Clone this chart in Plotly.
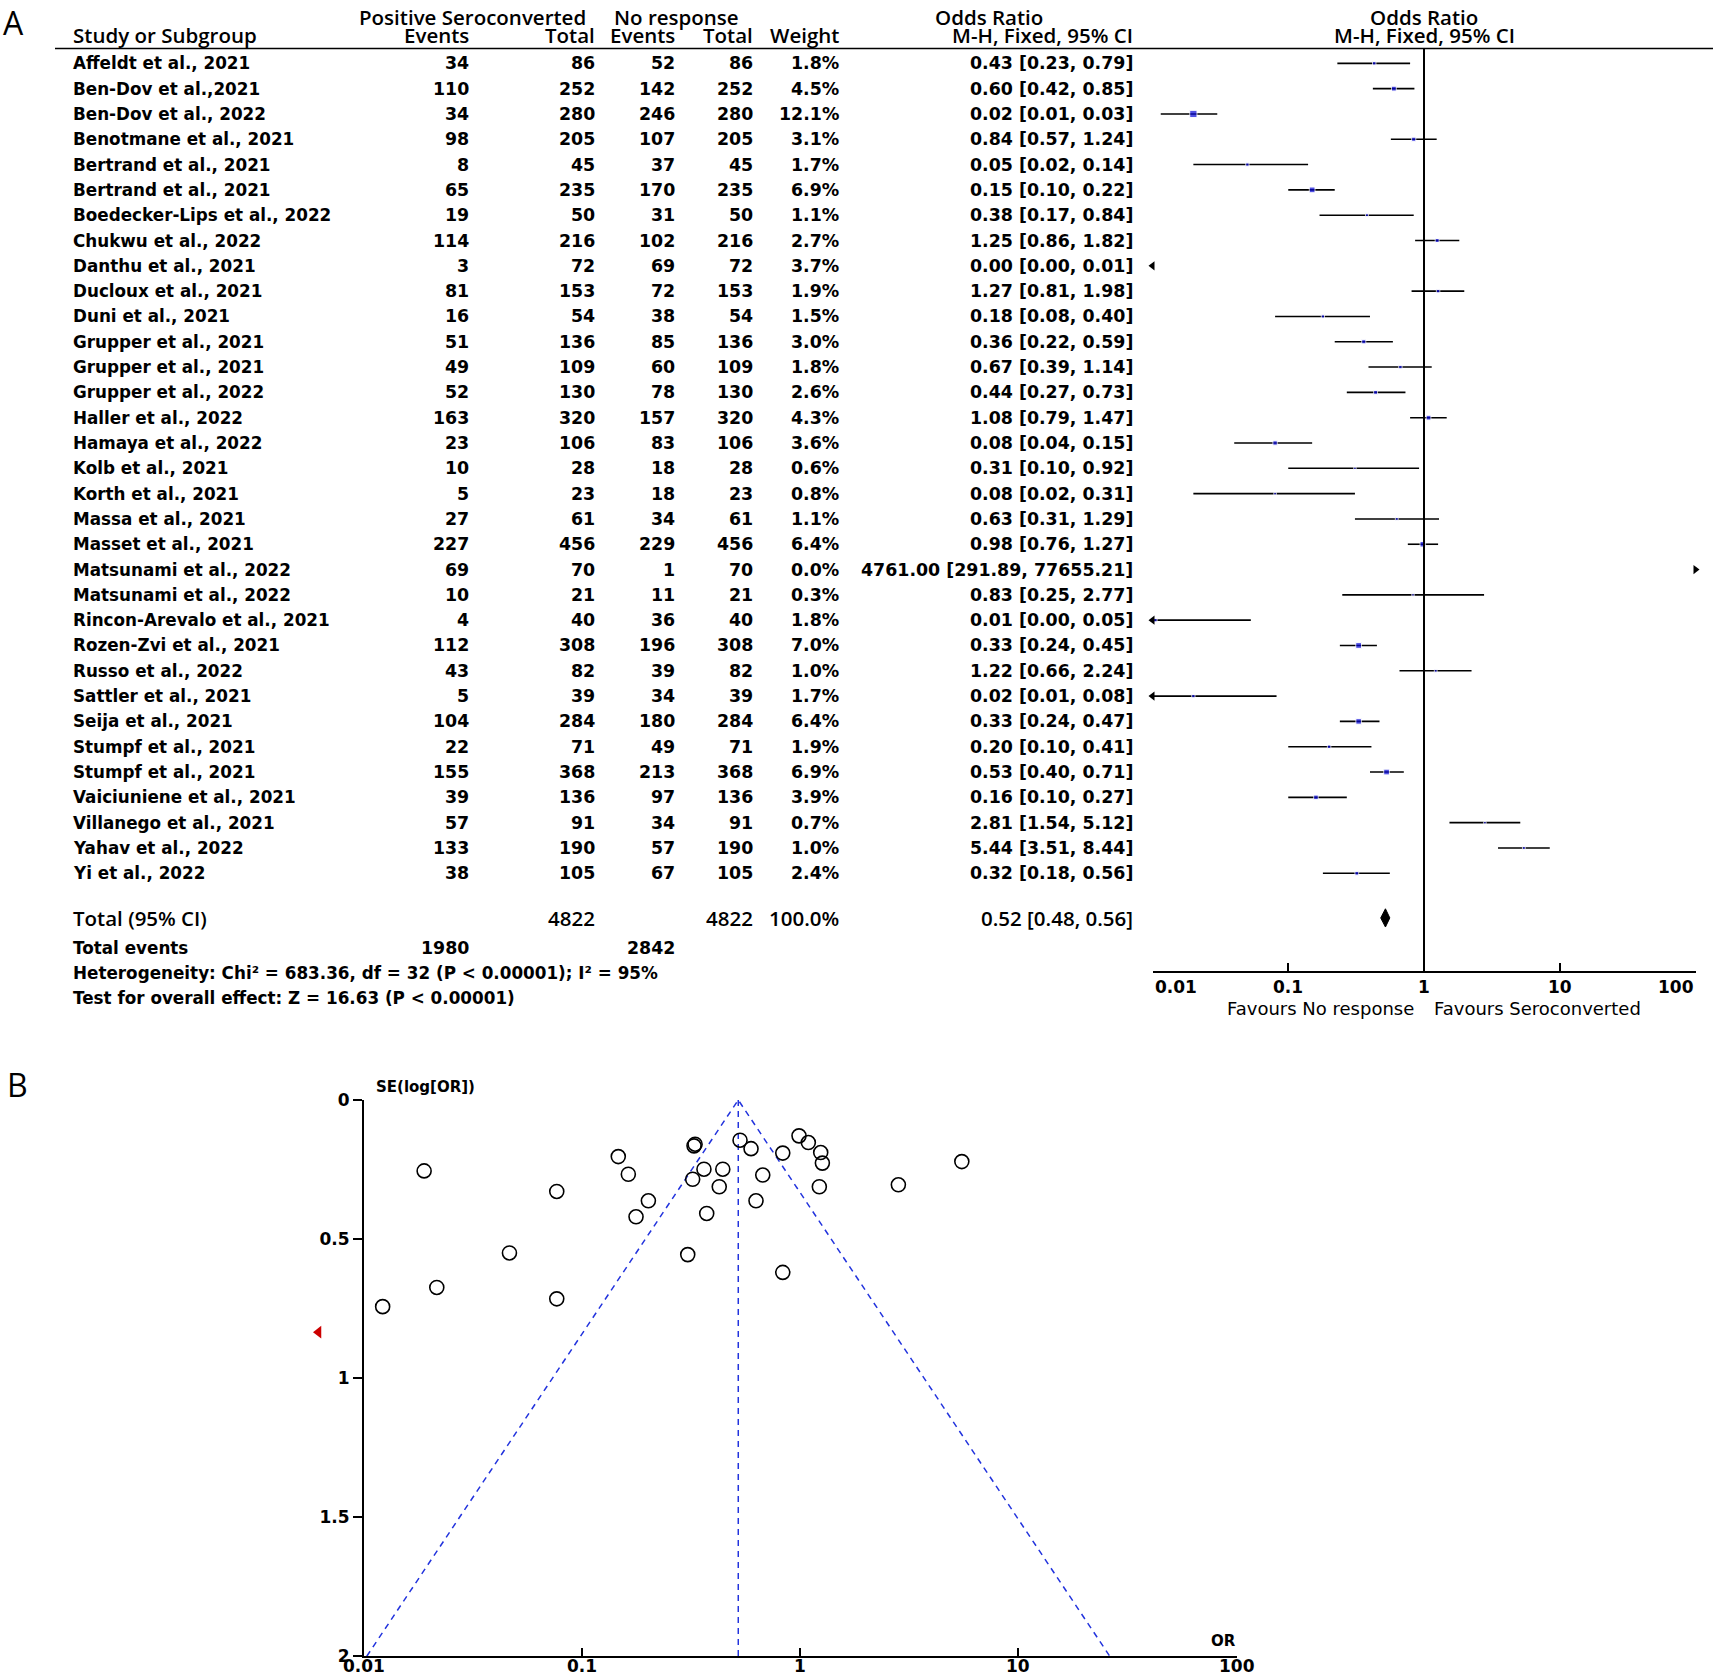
import math
import plotly.graph_objects as go

W, H = 1713, 1679

# ---------------- data (panel A: forest plot) ----------------
studies = [
    "Affeldt et al., 2021", "Ben-Dov et al.,2021", "Ben-Dov et al., 2022",
    "Benotmane et al., 2021", "Bertrand et al., 2021", "Bertrand et al., 2021",
    "Boedecker-Lips et al., 2022", "Chukwu et al., 2022", "Danthu et al., 2021",
    "Ducloux et al., 2021", "Duni et al., 2021", "Grupper et al., 2021",
    "Grupper et al., 2021", "Grupper et al., 2022", "Haller et al., 2022",
    "Hamaya et al., 2022", "Kolb et al., 2021", "Korth et al., 2021",
    "Massa et al., 2021", "Masset et al., 2021", "Matsunami et al., 2022",
    "Matsunami et al., 2022", "Rincon-Arevalo et al., 2021", "Rozen-Zvi et al., 2021",
    "Russo et al., 2022", "Sattler et al., 2021", "Seija et al., 2021",
    "Stumpf et al., 2021", "Stumpf et al., 2021", "Vaiciuniene et al., 2021",
    "Villanego et al., 2021", "Yahav et al., 2022", "Yi et al., 2022",
]
pos_events = [34, 110, 34, 98, 8, 65, 19, 114, 3, 81, 16, 51, 49, 52, 163, 23, 10,
              5, 27, 227, 69, 10, 4, 112, 43, 5, 104, 22, 155, 39, 57, 133, 38]
pos_total = [86, 252, 280, 205, 45, 235, 50, 216, 72, 153, 54, 136, 109, 130, 320, 106,
             28, 23, 61, 456, 70, 21, 40, 308, 82, 39, 284, 71, 368, 136, 91, 190, 105]
nr_events = [52, 142, 246, 107, 37, 170, 31, 102, 69, 72, 38, 85, 60, 78, 157, 83, 18,
             18, 34, 229, 1, 11, 36, 196, 39, 34, 180, 49, 213, 97, 34, 57, 67]
nr_total = [86, 252, 280, 205, 45, 235, 50, 216, 72, 153, 54, 136, 109, 130, 320, 106,
            28, 23, 61, 456, 70, 21, 40, 308, 82, 39, 284, 71, 368, 136, 91, 190, 105]
weight_pct = [1.8, 4.5, 12.1, 3.1, 1.7, 6.9, 1.1, 2.7, 3.7, 1.9, 1.5, 3.0, 1.8, 2.6,
              4.3, 3.6, 0.6, 0.8, 1.1, 6.4, 0.0, 0.3, 1.8, 7.0, 1.0, 1.7, 6.4, 1.9,
              6.9, 3.9, 0.7, 1.0, 2.4]
or_ci_text = [
    "0.43 [0.23, 0.79]", "0.60 [0.42, 0.85]", "0.02 [0.01, 0.03]", "0.84 [0.57, 1.24]",
    "0.05 [0.02, 0.14]", "0.15 [0.10, 0.22]", "0.38 [0.17, 0.84]", "1.25 [0.86, 1.82]",
    "0.00 [0.00, 0.01]", "1.27 [0.81, 1.98]", "0.18 [0.08, 0.40]", "0.36 [0.22, 0.59]",
    "0.67 [0.39, 1.14]", "0.44 [0.27, 0.73]", "1.08 [0.79, 1.47]", "0.08 [0.04, 0.15]",
    "0.31 [0.10, 0.92]", "0.08 [0.02, 0.31]", "0.63 [0.31, 1.29]", "0.98 [0.76, 1.27]",
    "4761.00 [291.89, 77655.21]", "0.83 [0.25, 2.77]", "0.01 [0.00, 0.05]",
    "0.33 [0.24, 0.45]", "1.22 [0.66, 2.24]", "0.02 [0.01, 0.08]", "0.33 [0.24, 0.47]",
    "0.20 [0.10, 0.41]", "0.53 [0.40, 0.71]", "0.16 [0.10, 0.27]", "2.81 [1.54, 5.12]",
    "5.44 [3.51, 8.44]", "0.32 [0.18, 0.56]",
]
# point estimates and CI limits as drawn in the forest plot
or_est = [0.43, 0.60, 0.02, 0.84, 0.05, 0.15, 0.38, 1.25, 0.0025, 1.27, 0.18, 0.36,
          0.67, 0.44, 1.08, 0.08, 0.31, 0.08, 0.63, 0.98, 4761.00, 0.83, 0.0105, 0.33,
          1.22, 0.02, 0.33, 0.20, 0.53, 0.16, 2.81, 5.44, 0.32]
ci_low = [0.23, 0.42, 0.0115, 0.57, 0.02, 0.10, 0.17, 0.86, 0.0006, 0.81, 0.08, 0.22,
          0.39, 0.27, 0.79, 0.04, 0.10, 0.02, 0.31, 0.76, 291.89, 0.25, 0.002, 0.24,
          0.66, 0.006, 0.24, 0.10, 0.40, 0.10, 1.54, 3.51, 0.18]
ci_high = [0.79, 0.85, 0.03, 1.24, 0.14, 0.22, 0.84, 1.82, 0.0095, 1.98, 0.40, 0.59,
           1.14, 0.73, 1.47, 0.15, 0.92, 0.31, 1.29, 1.27, 77655.21, 2.77, 0.053, 0.45,
           2.24, 0.082, 0.47, 0.41, 0.71, 0.27, 5.12, 8.44, 0.56]

total_pos, total_nr = 4822, 4822
total_events_pos, total_events_nr = 1980, 2842
pooled_or, pooled_lo, pooled_hi = 0.52, 0.48, 0.56
heterogeneity_text = "Heterogeneity: Chi² = 683.36, df = 32 (P < 0.00001); I² = 95%"
overall_text = "Test for overall effect: Z = 16.63 (P < 0.00001)"
forest_ticks = [0.01, 0.1, 1, 10, 100]
forest_ticklabels = ["0.01", "0.1", "1", "10", "100"]

# ---------------- data (panel B: funnel plot) ----------------
funnel_or = [0.0122, 0.0189, 0.0216, 0.0465, 0.0766, 0.0766, 0.1466, 0.163, 0.2014,
             0.1768, 0.3297, 0.326, 0.362, 0.3214, 0.4416, 0.4254, 0.3727, 0.3051,
             0.5298, 0.5949, 0.6733, 0.627, 0.8316, 0.8316, 0.987, 1.089, 1.241,
             1.263, 1.223, 2.816, 5.50]
funnel_se = [0.743, 0.255, 0.674, 0.550, 0.329, 0.715, 0.2035, 0.267, 0.3625, 0.420,
             0.159, 0.165, 0.249, 0.285, 0.249, 0.312, 0.408, 0.556, 0.1447, 0.175,
             0.270, 0.3625, 0.191, 0.620, 0.129, 0.153, 0.189, 0.227, 0.312, 0.305,
             0.2215]
offscale_or = [0.0062]
offscale_se = [0.835]
funnel_ticks = [0.01, 0.1, 1, 10, 100]
funnel_ticklabels = ["0.01", "0.1", "1", "10", "100"]
se_ticks = [0, 0.5, 1, 1.5, 2]
se_max = 2.0

# ---------------- layout helpers ----------------
# Reference pixel positions are converted to figure pixels.  A small vertical
# correction compensates the way the rendered page is photographed.
V_SCALE, V_OFF = 0.98765, 9.5


def fig_y(ref_y):
    return (ref_y - V_OFF) / V_SCALE


def px(x):
    return x / W


def py(ref_y):
    return 1 - fig_y(ref_y) / H


ROW0_PX, ROW_H = 62.8, 25.3
FOREST_TOP_PX, FOREST_BOT_PX = 48, 970


def row_of(p):
    return (p - ROW0_PX) / ROW_H


def row_px(r):
    return ROW0_PX + r * ROW_H


NAME_FONT = dict(family="DejaVu Sans", size=16.8, color="black", weight="bold")
NUM_FONT = dict(family="DejaVu Sans", size=17.4, color="black", weight="bold")
HEAD_FONT = dict(family="Open Sans", size=20.5, color="black", weight=600)
REG_FONT = dict(family="DejaVu Sans", size=18, color="black")
TICK_FONT = dict(family="DejaVu Sans", size=17, color="black", weight="bold")

fig = go.Figure()

n = len(studies)
rows = list(range(n))

# CI lines
lx, ly = [], []
larr_y, rarr_y = [], []
for i in rows:
    lo = max(ci_low[i], 0.01)
    hi = min(ci_high[i], 100)
    if hi > lo:
        lx += [lo, hi, None]
        ly += [i, i, None]
    if ci_low[i] < 0.01:
        larr_y.append(i)
    if ci_high[i] > 100:
        rarr_y.append(i)

fig.add_trace(go.Scatter(x=lx, y=ly, mode="lines", line=dict(color="black", width=1.6),
                         xaxis="x", yaxis="y", hoverinfo="skip", showlegend=False))

# point estimates (square size follows study weight)
sx, sy, ss = [], [], []
for i in rows:
    if 0.01 <= or_est[i] <= 100:
        sx.append(or_est[i])
        sy.append(i)
        ss.append(max(1.8 * math.sqrt(weight_pct[i]) + 1.0, 2.4))
fig.add_trace(go.Scatter(x=sx, y=sy, mode="markers",
                         marker=dict(symbol="square", size=ss, color="#0808d8"),
                         xaxis="x", yaxis="y", showlegend=False, cliponaxis=False))

# truncation arrows
fig.add_trace(go.Scatter(x=[0.01] * len(larr_y), y=larr_y, mode="markers",
                         marker=dict(symbol="triangle-left", size=8, color="black"),
                         xaxis="x", yaxis="y", showlegend=False, cliponaxis=False))
fig.add_trace(go.Scatter(x=[100] * len(rarr_y), y=rarr_y, mode="markers",
                         marker=dict(symbol="triangle-right", size=8, color="black"),
                         xaxis="x", yaxis="y", showlegend=False, cliponaxis=False))

# line of no effect
y_top = row_of(FOREST_TOP_PX)
y_bot = row_of(FOREST_BOT_PX)
fig.add_trace(go.Scatter(x=[1, 1], y=[y_top, y_bot], mode="lines",
                         line=dict(color="black", width=2), xaxis="x", yaxis="y",
                         showlegend=False, hoverinfo="skip"))

# pooled diamond
total_row = row_of(917)
dh = 0.36
fig.add_trace(go.Scatter(x=[pooled_lo, pooled_or, pooled_hi, pooled_or, pooled_lo],
                         y=[total_row, total_row - dh, total_row, total_row + dh, total_row],
                         mode="lines", fill="toself", fillcolor="black",
                         line=dict(color="black", width=1), xaxis="x", yaxis="y",
                         showlegend=False, hoverinfo="skip"))

# ---------------- funnel plot ----------------
FUN_L, FUN_R, FUN_T, FUN_B = 363.8, 1236.7, 1099, 1655
log_p = math.log(pooled_or)
fig.add_trace(go.Scatter(x=[math.exp(log_p - 1.96 * se_max), pooled_or,
                            math.exp(log_p + 1.96 * se_max)],
                         y=[se_max, 0, se_max], mode="lines",
                         line=dict(color="#2233dd", width=1.5, dash="6px,5px"),
                         xaxis="x2", yaxis="y2", showlegend=False, hoverinfo="skip"))
fig.add_trace(go.Scatter(x=[pooled_or, pooled_or], y=[0, se_max], mode="lines",
                         line=dict(color="#2233dd", width=1.5, dash="6px,5px"),
                         xaxis="x2", yaxis="y2", showlegend=False, hoverinfo="skip"))
fig.add_trace(go.Scatter(x=funnel_or, y=funnel_se, mode="markers",
                         marker=dict(symbol="circle-open", size=14, color="black",
                                     line=dict(width=1.6)),
                         xaxis="x2", yaxis="y2", showlegend=False))
# off-scale study: drawn on an invisible axis with the same log scale, extended left
decade_px = (FUN_R - FUN_L) / 4
EXT_L = 290
ext_lo = -2 - (FUN_L - EXT_L) / decade_px
fig.add_trace(go.Scatter(x=offscale_or, y=offscale_se, mode="markers",
                         marker=dict(symbol="triangle-left", size=11, color="#cc0000"),
                         xaxis="x3", yaxis="y2", showlegend=False, cliponaxis=False))

# ---------------- annotations ----------------
ann = []


def txt(x, y, s, font, xanchor="left", yref="paper", xref="paper", yanchor="middle",
        xshift=0):
    ann.append(dict(x=x, y=y, text=s, xref=xref, yref=yref, xanchor=xanchor,
                    yanchor=yanchor, showarrow=False, font=font, xshift=xshift))


COL_NAME = px(71)
COL_E1 = px(471)
COL_T1 = px(597)
COL_E2 = px(677)
COL_T2 = px(755)
COL_W = px(841)
COL_CI = px(1135)

# headers (first header line kept fully inside the page)
h1 = 1 - 7.5 / H
h2 = py(34)
txt(px(472.6), h1, "Positive Seroconverted", HEAD_FONT, "center")
txt(px(676), h1, "No response", HEAD_FONT, "center")
txt(px(989.5), h1, "Odds Ratio", HEAD_FONT, "center")
txt(0, h1, "Odds Ratio", HEAD_FONT, "center", xref="x")
txt(COL_NAME, h2, "Study or Subgroup", HEAD_FONT, "left")
txt(COL_E1, h2, "Events", HEAD_FONT, "right")
txt(COL_T1, h2, "Total", HEAD_FONT, "right")
txt(COL_E2, h2, "Events", HEAD_FONT, "right")
txt(COL_T2, h2, "Total", HEAD_FONT, "right")
txt(COL_W, h2, "Weight", HEAD_FONT, "right")
txt(COL_CI, h2, "M-H, Fixed, 95% CI", HEAD_FONT, "right")
txt(0, h2, "M-H, Fixed, 95% CI", HEAD_FONT, "center", xref="x")

for i in rows:
    yy = py(row_px(i))
    txt(COL_NAME, yy, studies[i], NAME_FONT, "left")
    txt(COL_E1, yy, str(pos_events[i]), NUM_FONT, "right")
    txt(COL_T1, yy, str(pos_total[i]), NUM_FONT, "right")
    txt(COL_E2, yy, str(nr_events[i]), NUM_FONT, "right")
    txt(COL_T2, yy, str(nr_total[i]), NUM_FONT, "right")
    txt(COL_W, yy, f"{weight_pct[i]:.1f}%", NUM_FONT, "right")
    txt(COL_CI, yy, or_ci_text[i], NUM_FONT, "right")

yt = py(917)
txt(COL_NAME, yt, "Total (95% CI)", HEAD_FONT, "left")
txt(COL_T1, yt, str(total_pos), HEAD_FONT, "right")
txt(COL_T2, yt, str(total_nr), HEAD_FONT, "right")
txt(COL_W, yt, "100.0%", HEAD_FONT, "right")
txt(COL_CI, yt, f"{pooled_or:.2f} [{pooled_lo:.2f}, {pooled_hi:.2f}]", HEAD_FONT, "right")

txt(COL_NAME, py(947), "Total events", NAME_FONT, "left")
txt(COL_E1, py(947), str(total_events_pos), NUM_FONT, "right")
txt(COL_E2, py(947), str(total_events_nr), NUM_FONT, "right")
txt(COL_NAME, py(972), heterogeneity_text, NAME_FONT, "left")
txt(COL_NAME, py(997.5), overall_text, NAME_FONT, "left")

# forest axis labels
for v, s in zip(forest_ticks, forest_ticklabels):
    xa = "left" if v == forest_ticks[0] else ("right" if v == forest_ticks[-1] else "center")
    txt(math.log10(v), py(986), s, TICK_FONT, xa, xref="x")
txt(0, py(1008), "Favours No response", REG_FONT, "right", xref="x", xshift=-8)
txt(0, py(1008), "Favours Seroconverted", REG_FONT, "left", xref="x", xshift=8)

# funnel axis labels (bottom row sits on the page edge, as in the reference)
y_flab = 1 - 1675.5 / H
for v, s in zip(funnel_ticks, funnel_ticklabels):
    txt(math.log10(v), y_flab, s, TICK_FONT, "center", xref="x2")
txt(px(374), py(1086), "SE(log[OR])", dict(TICK_FONT, size=15), "left")
txt(px(1223.5), py(1640), "OR", dict(TICK_FONT, size=15), "center")

# panel letters
LETTER_FONT = dict(family="Open Sans", size=32, color="black")
txt(px(1), py(22), "A", LETTER_FONT, "left")
txt(px(5), py(1084), "B", LETTER_FONT, "left")

shapes = [
    dict(type="line", xref="paper", yref="paper", x0=px(55), x1=1,
         y0=py(FOREST_TOP_PX), y1=py(FOREST_TOP_PX), line=dict(color="black", width=1.6)),
]

fig.update_layout(
    width=W, height=H, margin=dict(l=0, r=0, t=0, b=0),
    paper_bgcolor="white", plot_bgcolor="rgba(0,0,0,0)",
    showlegend=False, annotations=ann, shapes=shapes,
    xaxis=dict(type="log", range=[-2, 2], domain=[px(1152.5), px(1695.5)],
               anchor="y", showgrid=False, zeroline=False, showline=True,
               linecolor="black", linewidth=1.6, ticks="inside", ticklen=8,
               tickwidth=1.6, tickcolor="black", tickvals=forest_ticks,
               showticklabels=False),
    yaxis=dict(range=[y_bot, y_top], domain=[py(FOREST_BOT_PX), py(FOREST_TOP_PX)],
               visible=False, anchor="x"),
    xaxis2=dict(type="log", range=[-2, 2], domain=[px(FUN_L), px(FUN_R)],
                anchor="y2", showgrid=False, zeroline=False, showline=True,
                linecolor="black", linewidth=1.6, ticks="inside", ticklen=8,
                tickwidth=1.6, tickcolor="black", tickvals=funnel_ticks,
                showticklabels=False),
    xaxis3=dict(type="log", range=[ext_lo, 2], domain=[px(EXT_L), px(FUN_R)],
                anchor="y2", visible=False),
    yaxis2=dict(range=[se_max, 0], domain=[py(FUN_B), py(FUN_T)], anchor="x2",
                showgrid=False, zeroline=False, showline=True, linecolor="black",
                linewidth=1.6, ticks="outside", ticklen=9, tickwidth=1.6,
                tickcolor="black", tickvals=se_ticks,
                ticktext=[f"{v:g}" for v in se_ticks], tickfont=TICK_FONT),
)

# place the figure at the page origin (no default body margin)
PAGE_FIX = ("document.body.style.margin='0';document.body.style.padding='0';"
            "var gd=document.getElementById('{plot_id}');"
            "gd.style.position='absolute';gd.style.left='0px';gd.style.top='0px';")
fig.write_html("out.html", post_script=PAGE_FIX, config={"displayModeBar": False})
